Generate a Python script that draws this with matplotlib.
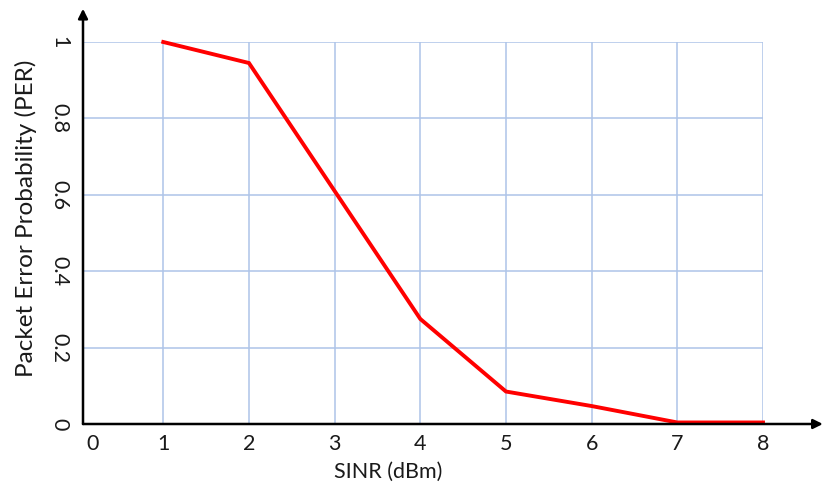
import matplotlib
matplotlib.use("Agg")
import matplotlib.pyplot as plt

# values
sinr = [1, 2, 3, 4, 5, 6, 7, 8]
per = [1.0, 0.945, 0.61, 0.275, 0.085, 0.047, 0.004, 0.004]
x_labels = ["0", "1", "2", "3", "4", "5", "6", "7", "8"]
y_ticks = [0, 0.2, 0.4, 0.6, 0.8, 1]
y_labels = ["0", "0.2", "0.4", "0.6", "0.8", "1"]

plt.rcParams["font.family"] = ["Lato", "DejaVu Sans"]

fig = plt.figure(figsize=(8.25, 4.87), dpi=100)
W, H = 825, 487
ax = fig.add_axes([83 / W, (H - 424) / H, (763 - 83) / W, (424 - 42) / H])

ax.plot(sinr, per, color="#ff0000", lw=2.8, solid_joinstyle="miter", clip_on=False, zorder=3)

ax.set_xlim(0.063, 8)
ax.set_ylim(0, 1)

# grid lines on minor ticks, labels on major ticks
ax.xaxis.remove_overlapping_locs = False
ax.set_xticks(sinr, minor=True)
ax.set_xticks([0.17] + sinr, labels=x_labels)
ax.set_yticks(y_ticks, labels=y_labels, rotation=-90, va="center")
ax.grid(which="minor", axis="x", color="#aec4e8", lw=1.1)
ax.grid(which="major", axis="y", color="#aec4e8", lw=1.1)
ax.tick_params(which="both", length=0, labelsize=15.5, colors="#1a1a1a")
ax.tick_params(axis="x", pad=7)
ax.tick_params(axis="y", pad=10)

for s in ax.spines.values():
    s.set_visible(False)

# axis lines with arrow heads
ax.annotate("", xy=(0, 1.087), xytext=(0, 0), xycoords="axes fraction",
            arrowprops=dict(arrowstyle="-|>", color="black", lw=1.8, mutation_scale=14,
                            shrinkA=0, shrinkB=0))
ax.annotate("", xy=(1.088, 0), xytext=(0, 0), xycoords="axes fraction",
            arrowprops=dict(arrowstyle="-|>", color="black", lw=1.8, mutation_scale=14,
                            shrinkA=0, shrinkB=0))

ax.set_xlabel("SINR (dBm)", fontsize=15.5, color="#1a1a1a", labelpad=8)
ax.xaxis.set_label_coords(0.449, -0.098)
ax.set_ylabel("Packet Error Probability (PER)", fontsize=17.5, color="#1a1a1a")
ax.yaxis.set_label_coords(-0.068, 0.539)

fig.savefig("out.png", dpi=100)
